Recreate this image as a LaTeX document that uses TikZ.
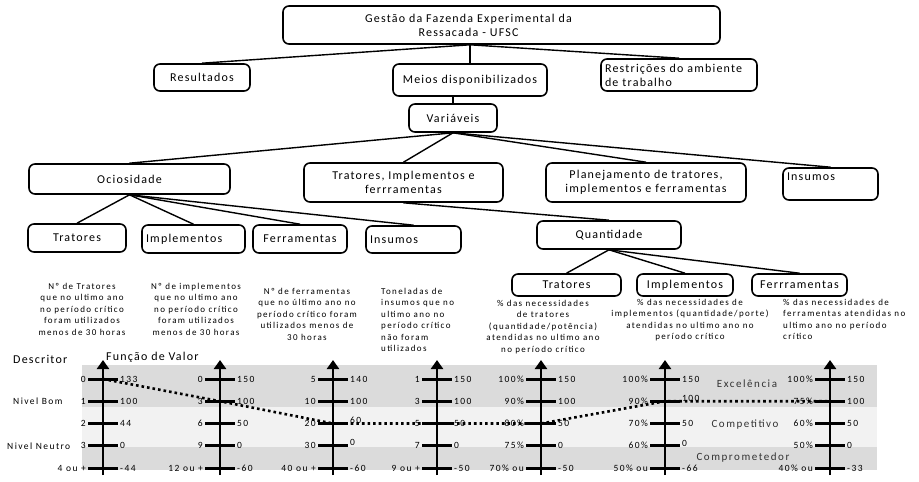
\documentclass[tikz,border=0pt]{standalone}
\usepackage{fontspec}
\setmainfont{Carlito}
\newfontfamily\caixafonte{Carlito}[LetterSpace=10]
\newfontfamily\textofonte{Carlito}[LetterSpace=15]
\newfontfamily\zonafonte{Carlito}[LetterSpace=14]
\usetikzlibrary{arrows.meta}

\begin{document}
\begin{tikzpicture}[x=1pt,y=-1pt,
  caixa/.style={draw,line width=1.6pt,rounded corners=6pt,inner sep=3pt,align=center,font=\caixafonte\fontsize{12}{14}\selectfont},
  liga/.style={line width=1.4pt},
  desc/.style={inner sep=0pt,align=center,font=\textofonte\fontsize{9}{11.5}\selectfont},
  rotulo/.style={inner sep=0pt,font=\textofonte\fontsize{9.5}{11}\selectfont},
  zona/.style={inner sep=0pt,font=\zonafonte\fontsize{11}{13}\selectfont,text=black!80},
  eixo/.style={line width=2.6pt,-{Triangle[width=12pt,length=9pt]}},
  marca/.style={line width=3pt},
  perfil/.style={line width=2.6pt,dash pattern=on 2.6pt off 3pt}]

\useasboundingbox (0,0) rectangle (919,482);

\node[caixa,minimum width=437,minimum height=38] (titulo) at (501.5,25) {Gestão da Fazenda Experimental da\hspace*{66pt}\\Ressacada - UFSC\hspace*{66pt}};
\node[caixa,minimum width=96,minimum height=27] (resultados) at (202,77.5) {Resultados};
\node[caixa,minimum width=154,minimum height=32] (meios) at (470,80) {Meios disponibilizados};
\node[caixa,minimum width=156,minimum height=32,text width=148,align=left] (restricoes) at (679,75) {Restrições do ambiente\\de trabalho};
\node[caixa,minimum width=88,minimum height=28] (variaveis) at (453,118) {Variáveis};

\node[caixa,minimum width=201,minimum height=30] (ociosidade) at (129.5,179) {Ociosidade};
\node[caixa,minimum width=199,minimum height=39] (tratimpl) at (403.5,182.5) {Tratores, Implementos e\\ferrramentas};
\node[caixa,minimum width=200,minimum height=39] (planejamento) at (646,182.5) {Planejamento de tratores,\\implementos e ferramentas};
\node[caixa,minimum width=95,minimum height=32,text width=87,align=left] (insumos) at (830.5,184) {Insumos\\\mbox{}};

\node[caixa,minimum width=98,minimum height=28] (tratores1) at (77,238) {Tratores};
\node[caixa,minimum width=103,minimum height=28,text width=95,align=left] (implementos1) at (193.5,239) {Implementos};
\node[caixa,minimum width=94,minimum height=28] (ferramentas1) at (300,239) {Ferramentas};
\node[caixa,minimum width=95,minimum height=27,text width=87,align=left] (insumos1) at (413.5,239.5) {Insumos};

\node[caixa,minimum width=144,minimum height=28] (quantidade) at (609,235) {Quantidade};
\node[caixa,minimum width=109,minimum height=22] (tratores2) at (566.5,285) {Tratores};
\node[caixa,minimum width=96,minimum height=22] (implementos2) at (685,285) {Implementos};
\node[caixa,minimum width=95,minimum height=22] (ferrramentas2) at (799.5,285) {Ferrramentas};

\draw[liga] (titulo.south -| meios.north) -- (resultados.north);
\draw[liga] (titulo.south -| meios.north) -- (meios.north);
\draw[liga] (titulo.south -| meios.north) -- (restricoes.north);
\draw[liga] (meios.south -| variaveis.north) -- (variaveis.north);
\draw[liga] (variaveis.south) -- (ociosidade.north);
\draw[liga] (variaveis.south) -- (tratimpl.north);
\draw[liga] (variaveis.south) -- (planejamento.north);
\draw[liga] (variaveis.south) -- (insumos.north);
\draw[liga] (ociosidade.south) -- (tratores1.north);
\draw[liga] (ociosidade.south) -- (implementos1.north);
\draw[liga] (ociosidade.south) -- (ferramentas1.north);
\draw[liga] (ociosidade.south) -- (insumos1.north);
\draw[liga] (tratimpl.south) -- (quantidade.north);
\draw[liga] (quantidade.south) -- (tratores2.north);
\draw[liga] (quantidade.south) -- (implementos2.north);
\draw[liga] (quantidade.south) -- (ferrramentas2.north);

\node[desc,anchor=north] (d1) at (82,283) {Nº  de Tratores\\que  no ultimo ano\\no período crítico\\foram utilizados\\menos de 30 horas};
\node[desc,anchor=north] (d2) at (196,283) {Nº de implementos\\que  no ultimo ano\\no período crítico\\foram utilizados\\menos de 30 horas};
\node[desc,anchor=north] (d3) at (307,288) {Nº de ferramentas\\que no último ano no\\período crítico foram\\utilizados menos de\\30 horas};
\node[desc,anchor=north west,align=left] (d4) at (381,288) {Toneladas de\\insumos que no\\ultimo ano no\\período crítico\\não foram\\utilizados};
\node[desc,anchor=north] (d5) at (543,300) {\% das necessidades\\de tratores\\(quantidade/potência)\\atendidas no ultimo ano\\no período crítico};
\node[desc,anchor=north] (d6) at (690,299) {\% das necessidades de\\implementos (quantidade/porte)\\atendidas no ultimo ano no\\período crítico};
\node[desc,anchor=north west,align=left] (d7) at (783,299) {\% das necessidades de\\ferramentas atendidas no\\ultimo ano no período\\crítico};

\fill[black!14] (82,365) rectangle (877,407);
\fill[black!5] (82,407) rectangle (877,447);
\fill[black!14] (82,447) rectangle (877,470);

\node[anchor=west,inner sep=0pt,font=\caixafonte\fontsize{12}{14}\selectfont] (descritor) at (13,359) {Descritor};
\node[anchor=west,inner sep=0pt,font=\caixafonte\fontsize{12}{14}\selectfont] (funcao) at (106,357) {Função de Valor};
\node[rotulo,anchor=west] (bom) at (13,401) {Nivel Bom};
\node[rotulo,anchor=west] (neutro) at (7,446) {Nivel Neutro};
\node[zona] (excelencia) at (747,384) {Excelência};
\node[zona] (competitivo) at (745,425) {Competitivo};
\node[zona] (comprometedor) at (743,458) {Comprometedor};

\foreach \n/\x/\lista in {
  1/103/{0/133,1/100,2/44,3/0,4 ou +/-44},
  2/220/{0/150,3/100,6/50,9/0,12 ou +/-60},
  3/333/{5/140,10/100,20/\raisebox{6pt}{60},30/\raisebox{7pt}{0},40 ou +/-60},
  4/437/{1/150,3/100,5/50,7/0,9 ou +/-50},
  5/541/{100\%/150,90\%/100,80\%/50,75\%/0,70\% ou/-50},
  6/665/{100\%/150,90\%/\raisebox{5pt}{100},70\%/50,60\%/\raisebox{5pt}{0},50\% ou/-66},
  7/830/{100\%/150,75\%/100,60\%/50,50\%/0,40\% ou/-33}} {
  \coordinate (base\n) at (\x,475);
  \coordinate (topo\n) at (\x,360);
  \draw[eixo] (base\n) -- (topo\n);
  \foreach \e/\d [count=\k] in \lista {
    \pgfmathsetmacro{\y}{379+(\k-1)*22.25}
    \coordinate (e\n-\k) at (\x,\y);
    \draw[marca] ([xshift=-15pt]e\n-\k) -- ([xshift=15pt]e\n-\k);
    \node[rotulo,anchor=east] (de\n-\k) at ([xshift=-17pt]e\n-\k) {\e};
    \node[rotulo,anchor=west] (va\n-\k) at ([xshift=17pt]e\n-\k) {\d};
  }
}

\draw[perfil] (e1-1) -- (e2-2) -- (e3-3) -- (e4-3) -- (e5-3) -- (e6-2) -- (e7-2);

\end{tikzpicture}
\end{document}
